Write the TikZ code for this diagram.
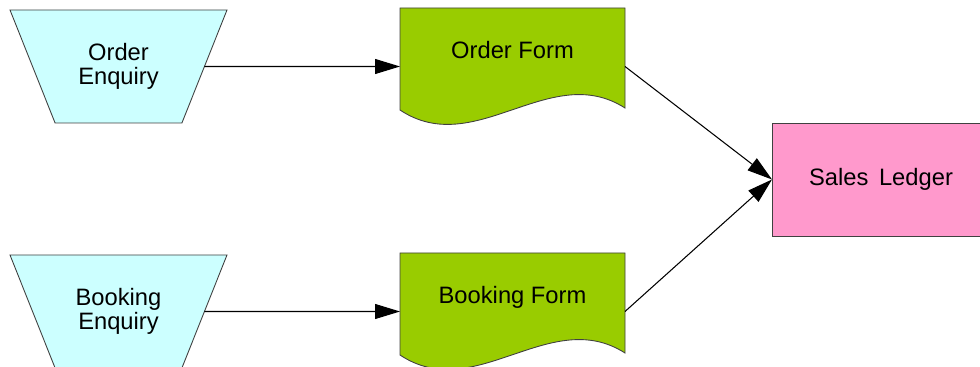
\documentclass[tikz,border=0pt]{standalone}
\usepackage{fontspec}
\setmainfont{Liberation Sans}
\usepackage{tikz}
\usetikzlibrary{shapes.geometric, positioning, arrows.meta, calc, backgrounds}

\definecolor{enqcyan}{HTML}{CCFFFF}
\definecolor{formgreen}{HTML}{99CC00}
\definecolor{ledgerpink}{HTML}{FF99CC}
\definecolor{edgegray}{HTML}{404040}

\tikzset{
  every node/.style={font=\fontsize{13.5}{13.6}\selectfont, outer sep=0pt},
  % angle is taken on the unstretched box, so it is set lower than the drawn slope
  enquiry/.style={trapezium, shape border rotate=180, trapezium angle=52,
    trapezium stretches body, minimum width=4.34cm, minimum height=2.26cm,
    draw=edgegray, fill=enqcyan, align=center, line width=0.5pt},
  form/.style={minimum width=4.5cm, minimum height=2.34cm, text height=10pt, text depth=19pt},
  formedge/.style={draw=edgegray, fill=formgreen, line width=0.5pt},
  ledger/.style={rectangle, draw=edgegray, fill=ledgerpink,
    minimum width=4.36cm, minimum height=2.26cm, line width=0.5pt},
  flow/.style={-{Triangle[length=0.5cm,width=0.3cm]}, line width=0.6pt}
}

\begin{document}
\begin{tikzpicture}
\useasboundingbox (0,0) rectangle (19.6,-7.34);

\node[enquiry] (oenq) at (2.37,-1.33) {Order\\Enquiry};
\node[enquiry, below of=oenq, yshift=-3.9cm] (benq) {Booking\\Enquiry};
\node[form, right of=oenq, xshift=6.88cm] (oform) {Order Form};
\node[form, right of=benq, xshift=6.88cm] (bform) {Booking Form};
\node[ledger] (sales) at (17.62,-3.59) {Sales\hspace{.45em}Ledger};

% document outline with the wavy bottom edge
\begin{scope}[on background layer]
\foreach \f in {oform,bform}
  \draw[formedge] (\f.north west) -- ($(\f.south west)+(0,0.3)$)
    .. controls ($(\f.south west)+(1.5,-0.7)$) and ($(\f.south west)+(3,1.3)$) .. ($(\f.south east)+(0,0.34)$)
    -- (\f.north east) -- cycle;
\end{scope}

\draw[flow] (oenq) -- (oform);
\draw[flow] (benq) -- (bform);
\draw[flow] (oform.east) -- (sales.west);
\draw[flow] (bform.east) -- (sales.west);

\end{tikzpicture}
\end{document}
